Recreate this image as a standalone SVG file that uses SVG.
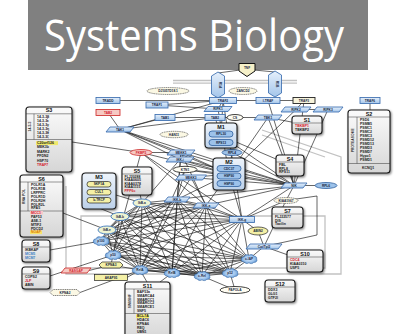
<svg xmlns="http://www.w3.org/2000/svg" width="405" height="334" viewBox="0 0 405 334">
<defs>
<linearGradient id="bg" x1="0" y1="0" x2="0" y2="1"><stop offset="0" stop-color="#fbfbfb"/><stop offset="1" stop-color="#d6d6d6"/></linearGradient>
<linearGradient id="mg" x1="0" y1="0" x2="0" y2="1"><stop offset="0" stop-color="#eef4fb"/><stop offset="1" stop-color="#bcd1ea"/></linearGradient>
<linearGradient id="pg" x1="0" y1="0" x2="0" y2="1"><stop offset="0" stop-color="#e6f0fb"/><stop offset="1" stop-color="#a3c5ea"/></linearGradient>
<radialGradient id="cg" cx="0.5" cy="0.5" r="0.6"><stop offset="0" stop-color="#d6e7f8"/><stop offset="0.55" stop-color="#9fc4ec"/><stop offset="1" stop-color="#4c89cc"/></radialGradient>
<filter id="sh" x="-15%" y="-15%" width="140%" height="140%"><feDropShadow dx="1" dy="1.2" stdDeviation="0.8" flood-color="#000" flood-opacity="0.5"/></filter>
<path id="cloud" d="M-5 -3a3 3 0 0 1 5 -2a3 3 0 0 1 5 1a3 3 0 0 1 3 4a3 3 0 0 1 -3 4.5a3 3 0 0 1 -5 .5a3 3 0 0 1 -5 -1a3 3 0 0 1 -3 -4a3 3 0 0 1 3 -3z"/>
<style>
.ed{fill:none;stroke:#141414;stroke-width:.65}
.gl{fill:none;stroke:#c2c2c2;stroke-width:1.3}
.bx{fill:url(#bg);stroke:#1a1a1a;stroke-width:1.1;filter:url(#sh)}
.mb{fill:url(#mg);stroke:#1a1a1a;stroke-width:1.1;filter:url(#sh)}
.sp{stroke:#333;stroke-width:.5}
text{font-family:"Liberation Sans",Arial,sans-serif;font-weight:bold}
.ttl{font-family:"Open Sans","Liberation Sans",sans-serif;font-weight:400;font-size:44px;fill:#fff}
.hd{font-size:5.4px;text-anchor:middle;fill:#111}
.it{font-size:3.5px;fill:#1a1a1a}
.lb{font-size:3.2px;text-anchor:middle;fill:#14243d}
.vt{font-size:3.4px;text-anchor:middle;fill:#333}
.r{fill:#d4202c}
.bl{fill:#3c7fc4}
.pb{fill:url(#pg);stroke:#3b6eb0;stroke-width:.85}
.ye{fill:#f4f0a6;stroke:#222;stroke-width:.7}
.cr{fill:#fbf8e4;stroke:#333;stroke-width:.6;stroke-dasharray:1.2 .6}
.rd{fill:#f6c9c3;stroke:#c22;stroke-width:.8}
.bu{fill:#9dc2ea;stroke:#2d5f9e;stroke-width:.8}
.ik{fill:#eef3d2;stroke:#3d77bd;stroke-width:.9}
.cl{fill:url(#cg);stroke:#2b5d9c;stroke-width:.6}
.wh{fill:#fffdf2;stroke:#111;stroke-width:.8}
</style>
</defs>
<rect width="405" height="334" fill="#fff"/>

<!-- title banner -->
<g id="title">
<rect x="28" y="0" width="340" height="70" fill="#808080"/>
<text class="ttl" x="44" y="51" textLength="300" lengthAdjust="spacingAndGlyphs">Systems Biology</text>
</g>

<!-- grey guide lines -->
<g id="guides" class="gl">
<path d="M173 80.5H297M173 83.2H297"/>
<path d="M66 186V274H341V157L262 130"/>
<path d="M81 268V216H325V268H81M325 157L262 135"/>
</g>

<!-- connectors -->
<g id="edges" class="ed">
<path d="M240 70L218 73M254 70L275 72M120 100.5H210M157 105L223 100.5M236 100.5H256M280 100.5H293M108 112.5L120 129.5M120 129.5L165 117.5M120 129.5L215 117.5M120 129.5L223 100.5M165 117.5H215M215 117.5H235M223 100.5L218 109M218 109L157 105M235 117.5H268M268 117.5L307 125M304 100.5L296 109.5M296 109.5L328 109.5M370 100.5V110"/>
<path d="M120 129.5L181 152.5M120 129.5L229 174M120 129.5L180 159.5M120 129.5L294 185.5M72 142L141 152.5M141 152.5L181 152.5M141 152.5L229 174M141 152.5L206 205.5M141 152.5L242 219.5M223 100.5L221 135.5M215 117.5L221 135.5M221 135.5L294 185.5M221 135.5L290 165M268 117.5L294 185.5M268 117.5L229 174M268 100.5L294 185.5M304 100.5L294 185.5M218 109L229 174M223 100.5L242 219.5M328 109.5L294 185.5M296 109.5L229 174"/>
<path d="M181 152.5L229 174M180 159.5L229 174M185 169.5L229 174M191 177.5L229 174M232 152.5L229 174M181 152.5L294 185.5M180 159.5L294 185.5M185 169.5L294 185.5M191 177.5L294 185.5M232 152.5L294 185.5M229 174L294 185.5M290 165L294 185.5M326 185.5H294M294 185.5L206 205.5M294 185.5L177 199.5M294 185.5L242 219.5M294 185.5L286 200.5M286 200.5L242 219.5M286 200.5L317 196V235L264 246.5M286 200.5L264 246.5M242 219.5L258 231M258 231L264 246.5M264 246.5L249 259M264 246.5L305 261M229 174L206 205.5M229 174L177 199.5M229 174L242 219.5M181 152.5L177 199.5M181 152.5L206 205.5M191 177.5L206 205.5M191 177.5L177 199.5M185 169.5L177 199.5M180 159.5L142 203M185 169.5L140 270M181 152.5L172 273M141 152.5L113 255"/>
<path d="M137 181L142 203M116 195L142 203M99 208L120 216.5M63 213L107 230M50 250L101 241M50 276L113 255M80 292.5L140 270M89 270.5L111 265M127 277.5L140 270M111 265L113 255M111 265L140 270M147 282L140 270M160 282L172 273M235 290L230 273M235 290L202 276"/>
<path d="M142 203L120 216.5M142 203L107 230M142 203L101 241M142 203L113 255M142 203L140 270M142 203L172 273M142 203L202 276M142 203L230 273M142 203L249 259M142 203L177 199.5M142 203L206 205.5M142 203L242 219.5M120 216.5L107 230M120 216.5L101 241M120 216.5L113 255M120 216.5L140 270M120 216.5L172 273M120 216.5L202 276M120 216.5L230 273M120 216.5L249 259M120 216.5L177 199.5M120 216.5L206 205.5M120 216.5L242 219.5M107 230L101 241M107 230L113 255M107 230L140 270M107 230L172 273M107 230L202 276M107 230L230 273M107 230L249 259M107 230L177 199.5M107 230L206 205.5M107 230L242 219.5"/>
<path d="M101 241L113 255M101 241L140 270M101 241L172 273M101 241L202 276M101 241L230 273M101 241L249 259M101 241L177 199.5M101 241L206 205.5M101 241L242 219.5M113 255L140 270M113 255L172 273M113 255L202 276M113 255L230 273M113 255L249 259M113 255L177 199.5M113 255L206 205.5M113 255L242 219.5M140 270L172 273M140 270L202 276M140 270L230 273M140 270L249 259M140 270L177 199.5M140 270L206 205.5M140 270L242 219.5M172 273L202 276M172 273L230 273M172 273L249 259M172 273L177 199.5M172 273L206 205.5M172 273L242 219.5M202 276L230 273M202 276L249 259M202 276L177 199.5M202 276L206 205.5M202 276L242 219.5M230 273L249 259M230 273L177 199.5M230 273L206 205.5M230 273L242 219.5M249 259L177 199.5M249 259L206 205.5M249 259L242 219.5M177 199.5L206 205.5M177 199.5L242 219.5M206 205.5L242 219.5"/>
</g>

<!-- receptor complex -->
<g id="n-tnf"><polygon points="239,63.5 255,63.5 255,71 247,76.5 239,71" fill="#f5f0c8" stroke="#111" stroke-width="1"/><text class="lb" x="247" y="68.8">TNF</text></g>
<g id="n-tnfr1a"><polygon points="218,72 224.5,76 224.5,94 218,98 211.5,94 211.5,76" class="pb"/><text class="lb" transform="translate(219.1,85) rotate(90)">R1A</text></g>
<g id="n-tnfr1b"><polygon points="275,71 281.5,75 281.5,93 275,97 268.5,93 268.5,75" class="pb"/><text class="lb" transform="translate(276.1,84) rotate(90)">R1B</text></g>

<!-- small nodes -->
<g id="n-dj1057"><ellipse class="cr" cx="168" cy="91" rx="21" ry="3.5"/><text class="lb" x="168" y="92.1">DJ1057D18.1</text></g>
<g id="n-zancd2"><ellipse class="cr" cx="243" cy="91" rx="14" ry="3.5"/><text class="lb" x="243" y="92.1">ZANCD2</text></g>
<g id="n-tradd"><rect class="pb" x="96" y="97.5" width="24" height="6"/><text class="lb" x="108" y="101.6">TRADD</text></g>
<g id="n-tab2r"><rect class="rd" x="96" y="109.5" width="24" height="6"/><text class="lb r" x="108" y="113.6">TAB2</text></g>
<g id="n-traf1"><rect class="pb" x="146" y="102" width="22" height="6"/><text class="lb" x="157" y="106.1">TRAF1</text></g>
<g id="n-traf2"><rect class="pb" x="209.5" y="97.5" width="27" height="6"/><text class="lb" x="223" y="101.6">TRAF2</text></g>
<g id="n-itraf"><rect class="pb" x="256" y="97.5" width="24" height="6"/><text class="lb" x="268" y="101.6">I-TRAF</text></g>
<g id="n-traf3"><rect x="293" y="97.5" width="22" height="6" fill="#f8f4dc" stroke="#222" stroke-width=".9"/><text class="lb" x="304" y="101.6">TRAF3</text></g>
<g id="n-traf6"><rect class="pb" x="360" y="97.5" width="20" height="6"/><text class="lb" x="370" y="101.6">TRAF6</text></g>
<g id="n-ripk1"><polygon class="pb" points="208,106.5 232,106.5 228,111.5 204,111.5"/><text class="lb" x="218" y="110.1">RIPK1</text></g>
<g id="n-ripk2"><polygon class="pb" points="285,107 311,107 307,112 281,112"/><text class="lb" x="296" y="110.6">RIPK2</text></g>
<g id="n-ripk3"><polygon class="pb" points="317,107 343,107 339,112 313,112"/><text class="lb" x="328" y="110.6">RIPK3</text></g>
<g id="n-tab1"><rect class="pb" x="155" y="114.5" width="20" height="6"/><text class="lb" x="165" y="118.6">TAB1</text></g>
<g id="n-tab2"><rect class="pb" x="205" y="114.5" width="20" height="6"/><text class="lb" x="215" y="118.6">TAB2</text></g>
<g id="n-cs"><ellipse class="wh" cx="235" cy="117.5" rx="8" ry="3"/><text class="lb" x="235" y="118.6">CS</text></g>
<g id="n-tbk1"><polygon class="pb" points="258,115 282,115 278,120 254,120"/><text class="lb" x="268" y="118.6">TBK1</text></g>
<g id="n-tak1"><polygon class="pb" points="110,127 134,127 130,132 106,132"/><text class="lb" x="120" y="130.6">TAK1</text></g>
<g id="n-han11"><ellipse class="cr" cx="174" cy="134.5" rx="14" ry="3.2"/><text class="lb" x="174" y="135.6">HAN11</text></g>
<g id="n-fkbp5"><ellipse class="rd" cx="141" cy="152.5" rx="11" ry="3"/><text class="lb r" x="141" y="153.6">FKBP5</text></g>
<g id="n-mekk1"><polygon class="pb" points="171,150 195,150 191,155 167,155"/><text class="lb" x="181" y="153.6">MEKK1</text></g>
<g id="n-rpl4"><ellipse class="bu" cx="232" cy="152.5" rx="10" ry="3"/><text class="lb" x="232" y="153.6">RPL4</text></g>
<g id="n-ikki"><polygon class="pb" points="170,157 194,157 190,162 166,162"/><text class="lb" x="180" y="160.6">IKK-i</text></g>
<g id="n-ktn1"><ellipse class="wh" cx="185" cy="169.5" rx="12" ry="3.2"/><text class="lb" x="185" y="170.6">KTN1</text></g>
<g id="n-mekk3"><polygon class="pb" points="179.5,175 206.5,175 202.5,180 175.5,180"/><text class="lb" x="191" y="178.6">MEKK3</text></g>
<g id="n-nik"><polygon class="pb" points="285,183 307,183 303,188 281,188"/><text class="lb" x="294" y="186.6">NIK</text></g>
<g id="n-rpl6"><ellipse class="bu" cx="326" cy="185.5" rx="11" ry="3"/><text class="lb" x="326" y="186.6">RPL6</text></g>
<g id="n-ikkb"><polygon class="pb" points="168,197 190,197 186,202 164,202"/><text class="lb" x="177" y="200.6">IKK-b</text></g>
<g id="n-ikka"><polygon class="pb" points="197,203 219,203 215,208 193,208"/><text class="lb" x="206" y="206.6">IKK-a</text></g>
<g id="n-ikkg"><rect class="pb" x="229.5" y="216.5" width="25" height="6"/><text class="lb" x="242" y="220.6">IKK-g</text></g>
<g id="n-kiaa1967"><ellipse class="cr" cx="286" cy="200.5" rx="12" ry="3"/><text class="lb" x="286" y="201.6">KIAA1967</text></g>
<g id="n-abin2"><ellipse class="ye" cx="258" cy="231" rx="10" ry="4"/><text class="lb" x="258" y="232.1">ABIN2</text></g>
<g id="n-cot"><polygon class="pb" points="250,244 282,244 278,249 246,249"/><text class="lb" x="264" y="247.6">Cot/Tpl2</text></g>
<g id="n-papola"><ellipse class="wh" cx="235" cy="290" rx="15" ry="3.5"/><text class="lb" x="235" y="291.1">PAPOLA</text></g>
<g id="n-kpna3"><polygon class="ye" points="99,265 102,262 120,262 123,265 120,268 102,268"/><text class="lb" x="111" y="266.1">KPNA3</text></g>
<g id="n-akap95"><rect class="ye" x="94.5" y="274.5" width="33" height="6"/><text class="lb" x="111" y="278.6">AKAP95</text></g>
<g id="n-rasgap"><polygon class="rd" points="65,268 91,268 87,273 61,273"/><text class="lb r" x="76" y="271.6">RASGAP</text></g>
<g id="n-kpna2"><polygon class="cr" points="50,292.5 53,289.5 77,289.5 80,292.5 77,295.5 53,295.5"/><text class="lb" x="65" y="293.6">KPNA2</text></g>

<!-- IkB proteins -->
<g id="n-ikba"><ellipse class="ik" cx="142" cy="203" rx="9" ry="4"/><text class="lb" x="142" y="204.1">IkB-a</text></g>
<g id="n-ikbb"><ellipse class="ik" cx="120" cy="216.5" rx="9" ry="4"/><text class="lb" x="120" y="217.6">IkB-b</text></g>
<g id="n-ikbe"><ellipse class="ik" cx="107" cy="230" rx="9" ry="4"/><text class="lb" x="107" y="231.1">IkB-e</text></g>

<!-- NF-kB subunits -->
<g id="n-p100"><use href="#cloud" class="cl" transform="translate(101,241) scale(.95,.75)"/><text class="lb" x="101" y="242.1">p100</text></g>
<g id="n-p50"><use href="#cloud" class="cl" transform="translate(113,255) scale(.95,.75)"/><text class="lb" x="113" y="256.1">p50</text></g>
<g id="n-rela"><use href="#cloud" class="cl" transform="translate(140,270) scale(.95,.75)"/><text class="lb" x="140" y="271.1">RelA</text></g>
<g id="n-relb"><use href="#cloud" class="cl" transform="translate(172,273) scale(.95,.75)"/><text class="lb" x="172" y="274.1">RelB</text></g>
<g id="n-crel"><use href="#cloud" class="cl" transform="translate(202,276) scale(.95,.75)"/><text class="lb" x="202" y="277.1">c-Rel</text></g>
<g id="n-p52"><use href="#cloud" class="cl" transform="translate(230,273) scale(.95,.75)"/><text class="lb" x="230" y="274.1">p52</text></g>
<g id="n-ciap"><use href="#cloud" class="cl" transform="translate(249,259) scale(.95,.75)"/><text class="lb" x="249" y="260.1">c-IAP</text></g>

<!-- protein complexes -->
<g id="s3">
<rect class="bx" x="26" y="107" width="46" height="65" rx="3"/>
<text class="hd" x="49" y="112.3">S3</text>
<path class="sp" d="M26 113.8H72M34 113.8V139.5M26 139.5H72"/>
<text class="vt" transform="translate(31.3,126.6) rotate(-90)">14-3-3</text>
<rect x="36" y="141.2" width="22" height="3.9" fill="#efe86a"/>
<text class="it"><tspan x="37" y="117.5">14-3-3β</tspan><tspan x="37" y="121.5">14-3-3ε</tspan><tspan x="37" y="125.5">14-3-3γ</tspan><tspan x="37" y="129.5">14-3-3η</tspan><tspan x="37" y="133.5">14-3-3θ</tspan><tspan x="37" y="137.5">14-3-3ζ</tspan><tspan x="37" y="144">C20orf126</tspan><tspan x="37" y="148.4">MEK3b</tspan><tspan x="37" y="152.8">MARK2</tspan><tspan x="37" y="157.2">PFDN2</tspan><tspan x="37" y="161.6">HSP70</tspan><tspan x="37" y="166" class="r">TRAF7</tspan></text>
</g>

<g id="s6">
<rect class="bx" x="20" y="175" width="43" height="62" rx="3"/>
<text class="hd" x="41.5" y="180.5">S6</text>
<path class="sp" d="M20 182H63M28 182V211M20 211H63"/>
<text class="vt" transform="translate(25.2,196.5) rotate(-90)">RNA POL</text>
<rect x="30" y="210.9" width="13" height="3.6" fill="#f7c9c9"/>
<rect x="30" y="230.5" width="12" height="3.6" fill="#f7e36b"/>
<text class="it"><tspan x="31" y="186">POLR1A</tspan><tspan x="31" y="189.9">POLR1B</tspan><tspan x="31" y="193.8">LRPPRC</tspan><tspan x="31" y="197.7">POLR1D</tspan><tspan x="31" y="201.6">POLR2H</tspan><tspan x="31" y="205.5">POLR2L</tspan><tspan x="31" y="209.4">RPA5</tspan><tspan x="31" y="213.9" class="r">MCC1</tspan><tspan x="31" y="217.8">PAF53</tspan><tspan x="31" y="221.7">ASE-1</tspan><tspan x="31" y="225.6">MTIF2</tspan><tspan x="31" y="229.5">PDCD2</tspan><tspan x="31" y="233.4" fill="#e07a00">NOAP</tspan></text>
</g>

<g id="s8">
<rect class="bx" x="22" y="240" width="28" height="22" rx="3"/>
<text class="hd" x="36" y="245.5">S8</text>
<path class="sp" d="M22 247H50"/>
<text class="it"><tspan x="25" y="251">IKBKAP</tspan><tspan x="25" y="254.9" class="bl">MCM5</tspan><tspan x="25" y="258.8" class="bl">MCM7</tspan></text>
</g>

<g id="s9">
<rect class="bx" x="22" y="267" width="28" height="22" rx="3"/>
<text class="hd" x="36" y="272.5">S9</text>
<path class="sp" d="M22 274H50"/>
<text class="it"><tspan x="25" y="278">COPS2</tspan><tspan x="25" y="281.9" class="r">JLP</tspan><tspan x="25" y="285.8">ABIN</tspan></text>
</g>

<g id="m3">
<rect class="mb" x="82" y="173" width="34" height="36" rx="3.5"/>
<text class="hd" x="99" y="178.6">M3</text>
<rect class="ye" x="87" y="181.5" width="24" height="5.5" rx="2.7"/><text class="lb" x="99" y="185.4">SKP1A</text>
<rect class="ye" x="87" y="189.5" width="24" height="5.5" rx="2.7"/><text class="lb" x="99" y="193.4">CUL1</text>
<rect class="ye" x="87" y="197.5" width="24" height="5.5" rx="2.7"/><text class="lb" x="99" y="201.4">b-TRCP</text>
</g>

<g id="s5">
<rect class="bx" x="122" y="167" width="30" height="28" rx="3"/>
<text class="hd" x="137" y="172.5">S5</text>
<path class="sp" d="M122 174H152"/>
<text class="it" font-size="3.2"><tspan x="124.5" y="177.6">FLJ20288</tspan><tspan x="124.5" y="181.1">KIAA0605</tspan><tspan x="124.5" y="184.6">KIAA0378</tspan><tspan x="124.5" y="188.1">KIAA1115</tspan><tspan x="124.5" y="191.6" class="r">PPP6c</tspan></text>
</g>

<g id="m1">
<rect class="mb" x="205" y="123" width="32" height="25" rx="3.5"/>
<text class="hd" x="221" y="128.6">M1</text>
<rect class="bu" x="209" y="131" width="24" height="6" rx="3"/><text class="lb" x="221" y="135.1">RPL30</text>
<rect class="bu" x="209" y="139.5" width="24" height="6" rx="3"/><text class="lb" x="221" y="143.6">RPS13</text>
</g>

<g id="m2">
<rect class="mb" x="213" y="158" width="32" height="32" rx="3.5"/>
<text class="hd" x="229" y="163.6">M2</text>
<rect class="bu" x="217" y="165.5" width="24" height="6" rx="3"/><text class="lb" x="229" y="169.6">CDC37</text>
<rect class="bu" x="217" y="173" width="24" height="6" rx="3"/><text class="lb" x="229" y="177.1">HSP90</text>
<rect class="bu" x="217" y="180.5" width="24" height="6" rx="3"/><text class="lb" x="229" y="184.6">HSP90</text>
</g>

<g id="s1">
<rect class="bx" x="292" y="116" width="30" height="18" rx="3"/>
<text class="hd" x="307" y="121.5">S1</text>
<path class="sp" d="M292 123H322"/>
<text class="it"><tspan x="295" y="127.2" class="r">TBKBP1</tspan><tspan x="295" y="131">TBKBP2</tspan></text>
</g>

<g id="s2">
<rect class="bx" x="348" y="110" width="42" height="63" rx="3"/>
<text class="hd" x="369" y="115.5">S2</text>
<path class="sp" d="M348 117H390M357 117V163.5M348 163.5H390"/>
<text class="vt" transform="translate(353.8,140.3) rotate(-90)">PROTEASOME</text>
<text class="it"><tspan x="360" y="121">PSD6</tspan><tspan x="360" y="125">PSMB5</tspan><tspan x="360" y="129">PSMC1</tspan><tspan x="360" y="133">PSMC2</tspan><tspan x="360" y="137">PSMC3</tspan><tspan x="360" y="141">PSMD12</tspan><tspan x="360" y="145">PSMD13</tspan><tspan x="360" y="149">PSMD3</tspan><tspan x="360" y="153">PSMD7</tspan><tspan x="360" y="157">Hypo1</tspan><tspan x="360" y="161">PSMD1</tspan><tspan x="362" y="168.6">KCNQ1</tspan></text>
</g>

<g id="s4">
<rect class="bx" x="276" y="155" width="28" height="21" rx="3"/>
<text class="hd" x="290" y="160.5">S4</text>
<path class="sp" d="M276 162H304"/>
<text class="it"><tspan x="279" y="166">FBL</tspan><tspan x="279" y="169.7">RPL8</tspan><tspan x="279" y="173.4">RPS11</tspan></text>
</g>

<g id="s7">
<rect class="bx" x="272" y="207" width="31" height="21" rx="3"/>
<text class="hd" x="287.5" y="212.5">S7</text>
<path class="sp" d="M272 214H303"/>
<text class="it"><tspan x="275" y="218">FLJ22577</tspan><tspan x="275" y="221.7">DIS</tspan><tspan x="275" y="225.4">Taxilin</tspan></text>
</g>

<g id="s10">
<rect class="bx" x="287" y="250" width="36" height="22" rx="3"/>
<text class="hd" x="305" y="255.5">S10</text>
<path class="sp" d="M287 257H323"/>
<text class="it"><tspan x="290" y="261" class="r">CDC4</tspan><tspan x="290" y="264.8">KIAA0310</tspan><tspan x="290" y="268.6">USP5</tspan></text>
</g>

<g id="s12">
<rect class="bx" x="265" y="280" width="30" height="22" rx="3"/>
<text class="hd" x="280" y="285.5">S12</text>
<path class="sp" d="M265 287H295"/>
<text class="it"><tspan x="268" y="291">DDX3</tspan><tspan x="268" y="294.8">GLG1</tspan><tspan x="268" y="298.6">GTF2I</tspan></text>
</g>

<g id="s11">
<rect class="bx" x="125" y="282" width="45" height="58" rx="3"/>
<text class="hd" x="147.5" y="287.5">S11</text>
<path class="sp" d="M125 289H170M134 289V313.5M125 313.5H170"/>
<text class="vt" transform="translate(130.5,301.2) rotate(-90)">SWI/SNF</text>
<rect x="136" y="314.4" width="13" height="3.7" fill="#f3ea6a"/>
<text class="it"><tspan x="137" y="293">BAF53a</tspan><tspan x="137" y="296.8">SMARCA4</tspan><tspan x="137" y="300.6">SMARCC1</tspan><tspan x="137" y="304.4">SMARCC2</tspan><tspan x="137" y="308.2">SMARCE1</tspan><tspan x="137" y="312">SNF5</tspan><tspan x="137" y="317.3">BCL7A</tspan><tspan x="137" y="321.1">HDAC6</tspan><tspan x="137" y="324.9">KPNA6</tspan><tspan x="137" y="328.7">REQ</tspan><tspan x="137" y="332.5">UBN1</tspan></text>
</g>
</svg>
